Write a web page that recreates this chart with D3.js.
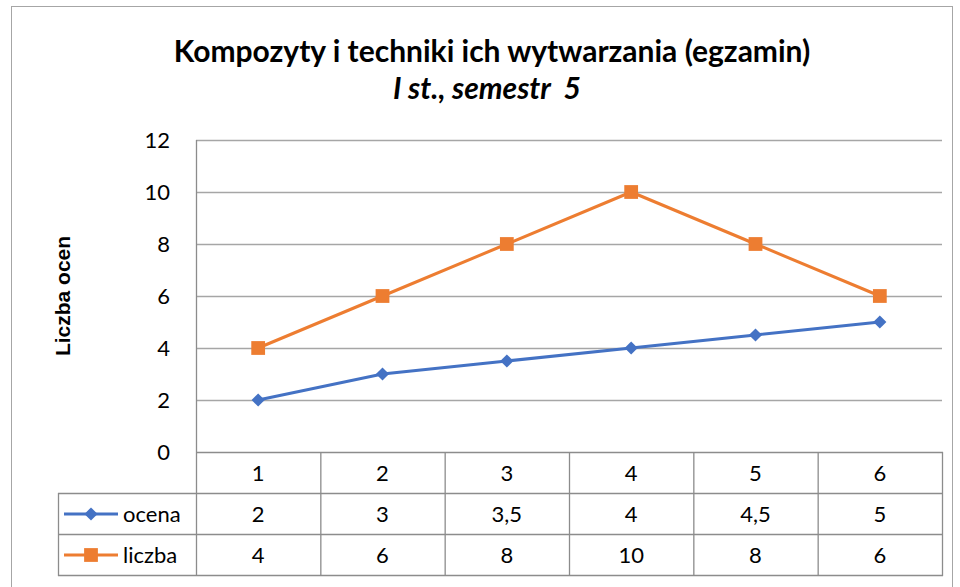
<!DOCTYPE html>
<html><head><meta charset="utf-8">
<script src="https://cdn.jsdelivr.net/npm/d3@7"></script>
<style>body{margin:0;background:#fff}svg{display:block}text{font-family:Lato,"Open Sans",sans-serif;fill:#000}</style>
</head><body>
<script>
const categories = ["1","2","3","4","5","6"];
const ocena = [2,3,3.5,4,4.5,5];
const liczba = [4,6,8,10,8,6];
const ocenaLabels = ["2","3","3,5","4","4,5","5"];
const liczbaLabels = ["4","6","8","10","8","6"];
const yTicks = [0,2,4,6,8,10,12];
const seriesNames = ["ocena","liczba"];
const colors = ["#4472C4","#ED7D31"];

const W=960,H=587;
const FS=22;
const svg=d3.select("body").append("svg").attr("width",W).attr("height",H);
svg.append("rect").attr("x",11.5).attr("y",6.5).attr("width",941).attr("height",600).attr("fill","#fff").attr("stroke","#a6a6a6");

const x=d3.scaleBand().domain(categories).range([196,942]);
const y=d3.scaleLinear().domain([0,12]).range([452,140]);

svg.append("text").attr("x",492).attr("y",62).attr("text-anchor","middle").attr("font-size",30).attr("font-weight","bold").text("Kompozyty i techniki ich wytwarzania (egzamin)");
svg.append("text").attr("x",487).attr("y",99).attr("text-anchor","middle").attr("font-size",30).attr("font-weight","bold").attr("font-style","italic").style("white-space","pre").text("I st., semestr  5");

// grid
const grid=svg.append("g");
grid.selectAll("line").data(yTicks.filter(d=>d>0)).join("line")
 .attr("x1",196).attr("x2",942).attr("y1",d=>y(d)+0.5).attr("y2",d=>y(d)+0.5).attr("stroke","#a6a6a6").attr("stroke-width",1.3);
// y axis
const yAxis=svg.append("g").attr("transform","translate(196,0)").call(d3.axisLeft(y).tickValues(yTicks).tickSize(0).tickPadding(26));
yAxis.select(".domain").remove();
yAxis.selectAll("text").attr("font-size",FS).attr("font-family","Lato,sans-serif").attr("fill","#000");
svg.append("line").attr("x1",196.5).attr("x2",196.5).attr("y1",140).attr("y2",576).attr("stroke","#8c8c8c").attr("stroke-width",1.3);

svg.append("text").attr("transform","translate(70,296) rotate(-90)").attr("text-anchor","middle").attr("font-size",21).attr("font-weight","bold").style("font-family","'Liberation Sans',Arial,sans-serif").text("Liczba ocen");

// table
const tg=svg.append("g").attr("stroke","#8c8c8c").attr("stroke-width",1.3);
tg.append("line").attr("x1",196).attr("x2",943).attr("y1",452.5).attr("y2",452.5);
tg.append("line").attr("x1",58).attr("x2",943).attr("y1",493.5).attr("y2",493.5);
tg.append("line").attr("x1",58).attr("x2",943).attr("y1",534.5).attr("y2",534.5);
tg.append("line").attr("x1",58).attr("x2",943).attr("y1",575.5).attr("y2",575.5);
tg.append("line").attr("x1",58.5).attr("x2",58.5).attr("y1",493).attr("y2",576);
tg.selectAll(".v").data(categories).join("line").attr("class","v")
 .attr("x1",d=>x(d)+x.bandwidth()+0.5).attr("x2",d=>x(d)+x.bandwidth()+0.5).attr("y1",452).attr("y2",576);

const cx=d=>x(d)+x.bandwidth()/2;
svg.selectAll(".hdr").data(categories).join("text").attr("class","hdr").attr("x",cx).attr("y",481).attr("text-anchor","middle").attr("font-size",FS).text(d=>d);
svg.selectAll(".r1").data(categories).join("text").attr("class","r1").attr("x",cx).attr("y",522).attr("text-anchor","middle").attr("font-size",FS).text((d,i)=>ocenaLabels[i]);
svg.selectAll(".r2").data(categories).join("text").attr("class","r2").attr("x",cx).attr("y",563).attr("text-anchor","middle").attr("font-size",FS).text((d,i)=>liczbaLabels[i]);

// legend keys
const sym=[d3.symbol().type(d3.symbolDiamond2).size(110), d3.symbol().type(d3.symbolSquare).size(190)];
[0,1].forEach(k=>{
 const ly=[514,555][k];
 svg.append("line").attr("x1",64).attr("x2",118).attr("y1",ly).attr("y2",ly).attr("stroke",colors[k]).attr("stroke-width",3);
 svg.append("path").attr("d",sym[k]()).attr("transform",`translate(91,${ly})`).attr("fill",colors[k]);
 svg.append("text").attr("x",123).attr("y",ly+8).attr("font-size",FS).text(seriesNames[k]);
});

// lines
[ocena,liczba].forEach((s,k)=>{
 const line=d3.line().x((d,i)=>cx(categories[i])).y(d=>y(d));
 svg.append("path").datum(s).attr("d",line).attr("fill","none").attr("stroke",colors[k]).attr("stroke-width",3);
 svg.selectAll(".m"+k).data(s).join("path").attr("class","m"+k).attr("d",sym[k]())
  .attr("transform",(d,i)=>`translate(${cx(categories[i])},${y(d)})`).attr("fill",colors[k]);
});
</script>
</body></html>
